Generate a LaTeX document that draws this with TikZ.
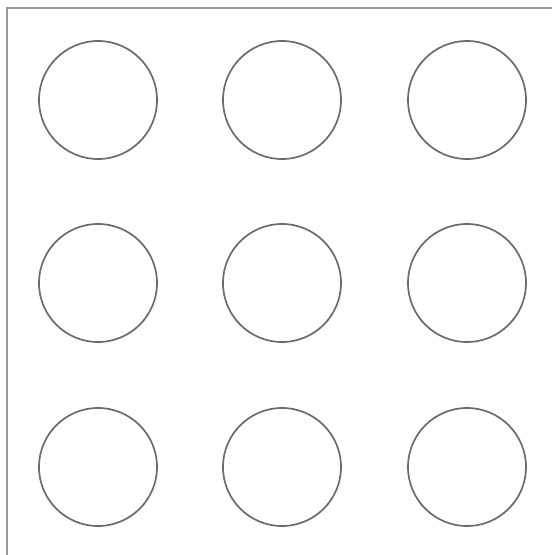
\documentclass[tikz,border=0pt]{standalone}
\begin{document}
\begin{tikzpicture}[x=1pt,y=-1pt,
  ring/.style={circle,draw=black!58,line width=1.7pt,minimum size=118pt,inner sep=0pt},
  frame/.style={draw=black!40,line width=2.2pt}]
\useasboundingbox (0,0) rectangle (552,555);
\fill[white] (0,0) rectangle (552,555);
\coordinate (tl) at (7,8);
\coordinate (tr) at (552,8);
\coordinate (bl) at (7,555);
\draw[frame] (tr) -- (tl) -- (bl);
\node[ring] (c11) at (98,100) {};
\node[ring] (c12) at (282,100) {};
\node[ring] (c13) at (467,100) {};
\node[ring] (c21) at (98,283) {};
\node[ring] (c22) at (282,283) {};
\node[ring] (c23) at (467,283) {};
\node[ring] (c31) at (98,467) {};
\node[ring] (c32) at (282,467) {};
\node[ring] (c33) at (467,467) {};
\end{tikzpicture}
\end{document}
